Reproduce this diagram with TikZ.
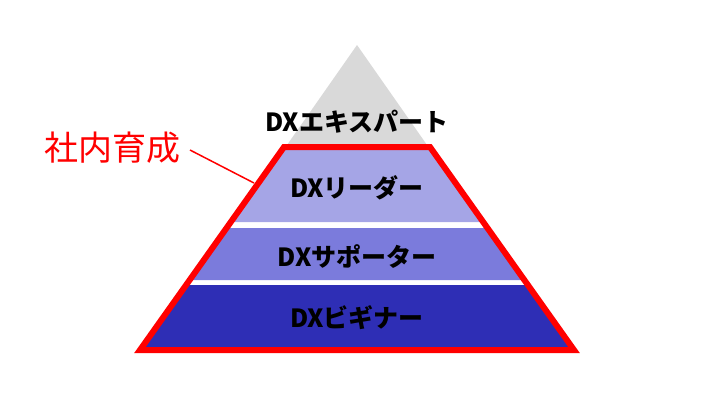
\documentclass[tikz,border=0pt]{standalone}
\usepackage{fontspec}
\newfontfamily\jp{Noto Sans CJK JP}
\definecolor{lay1}{RGB}{165,165,230}
\definecolor{lay2}{RGB}{123,123,220}
\definecolor{lay3}{RGB}{46,46,181}
\definecolor{topg}{RGB}{217,217,217}
\begin{document}
\begin{tikzpicture}[x=1pt,y=-1pt,
  lbl/.style={font=\jp\bfseries\fontsize{25}{28}\selectfont,text=black,inner sep=0}]
\useasboundingbox (0,0) rectangle (720,400);
\fill[topg] (357,45) -- (427,145) -- (287,145) -- cycle;
\fill[lay1] (284,148) -- (430,148) -- (482,222) -- (232,222) -- cycle;
\fill[lay2] (228,228) -- (486,228) -- (523,280) -- (191,280) -- cycle;
\fill[lay3] (188,285) -- (527,285) -- (571,347) -- (143,347) -- cycle;
\draw[red,line width=6pt,line join=miter] (284,147) -- (430,147) -- (574,350) -- (140,350) -- cycle;
\coordinate (tip) at (254,183);
\node[font=\jp\fontsize{34}{38}\selectfont,text=red,inner sep=0] (lab) at (112,148) {社内育成};
\draw[red,line width=1.5pt] (190,150) -- (tip);
\node[lbl] (a) at (357,122) {DXエキスパート};
\node[lbl] (b) at (357,188) {DXリーダー};
\node[lbl] (c) at (357,257) {DXサポーター};
\node[lbl] (d) at (357,318) {DXビギナー};
\end{tikzpicture}
\end{document}
